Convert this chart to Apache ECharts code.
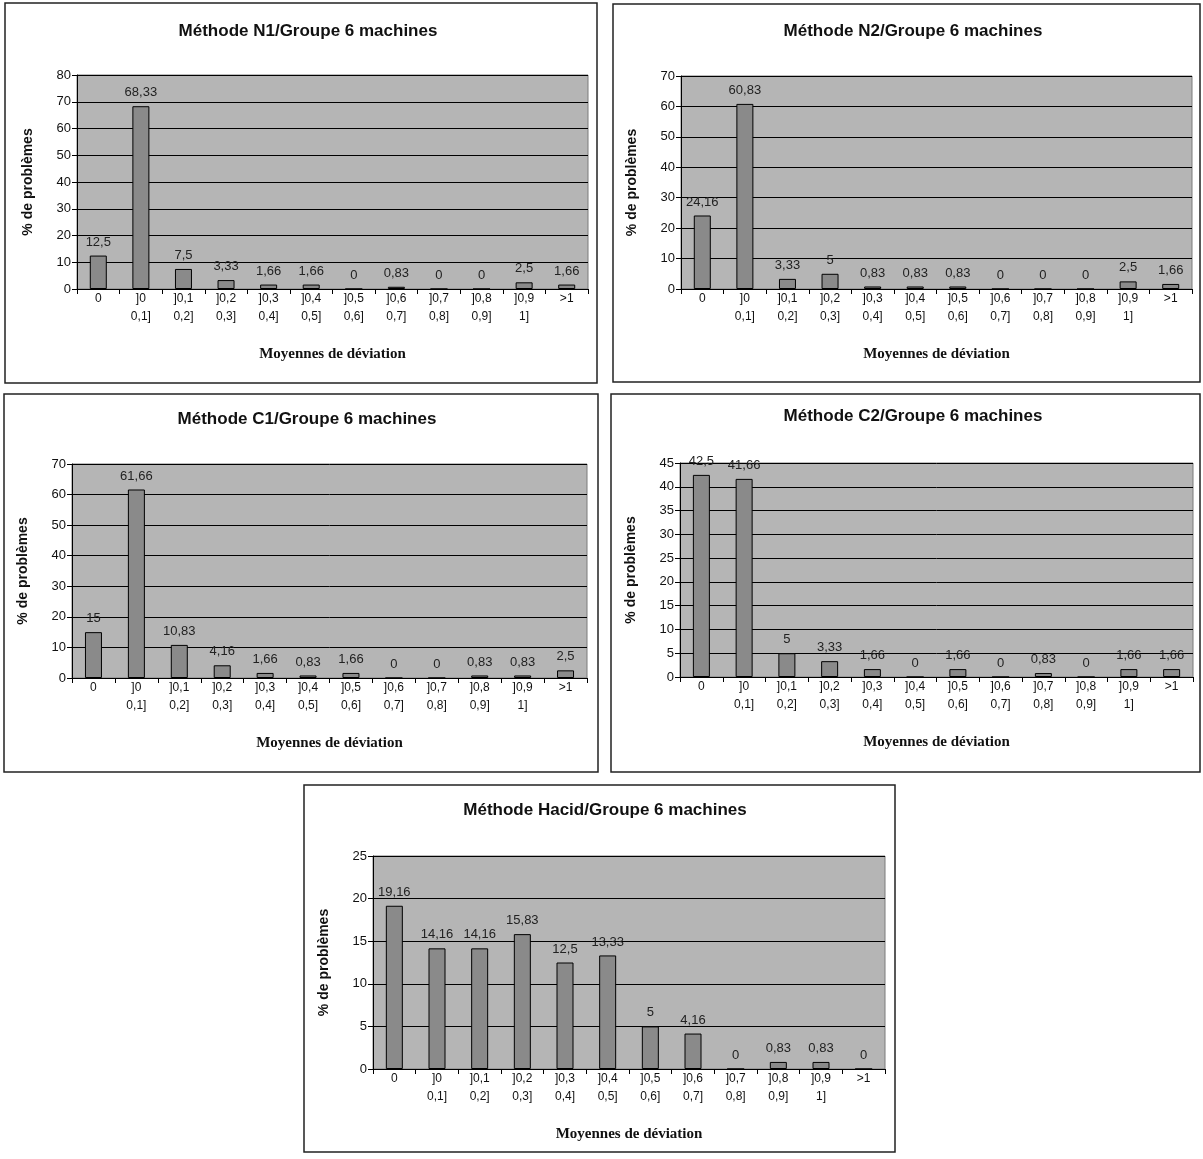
<!DOCTYPE html>
<html>
<head>
<meta charset="utf-8">
<script src="https://cdn.jsdelivr.net/npm/echarts@6/dist/echarts.min.js"></script>
<style>
html,body{margin:0;padding:0;background:#fff;}
#c{width:1203px;height:1159px;}
</style>
</head>
<body>
<div id="c"></div>
<script>
// ---- data ----
const categories = ['0', ']0\n0,1]', ']0,1\n0,2]', ']0,2\n0,3]', ']0,3\n0,4]', ']0,4\n0,5]',
  ']0,5\n0,6]', ']0,6\n0,7]', ']0,7\n0,8]', ']0,8\n0,9]', ']0,9\n1]', '>1'];
const titles = ['Méthode N1/Groupe 6 machines', 'Méthode N2/Groupe 6 machines',
  'Méthode C1/Groupe 6 machines', 'Méthode C2/Groupe 6 machines', 'Méthode Hacid/Groupe 6 machines'];
const valuesN1 = [12.5, 68.33, 7.5, 3.33, 1.66, 1.66, 0, 0.83, 0, 0, 2.5, 1.66];
const valuesN2 = [24.16, 60.83, 3.33, 5, 0.83, 0.83, 0.83, 0, 0, 0, 2.5, 1.66];
const valuesC1 = [15, 61.66, 10.83, 4.16, 1.66, 0.83, 1.66, 0, 0, 0.83, 0.83, 2.5];
const valuesC2 = [42.5, 41.66, 5, 3.33, 1.66, 0, 1.66, 0, 0.83, 0, 1.66, 1.66];
const valuesHacid = [19.16, 14.16, 14.16, 15.83, 12.5, 13.33, 5, 4.16, 0, 0.83, 0.83, 0];
const yMax = [80, 70, 70, 45, 25];
const yStep = [10, 10, 10, 5, 5];
const yName = '% de problèmes';
const xName = 'Moyennes de déviation';

// ---- layout ----
const allValues = [valuesN1, valuesN2, valuesC1, valuesC2, valuesHacid];
const grids = [
  {left: 77, top: 75, width: 511, height: 214},
  {left: 681, top: 76, width: 511, height: 213},
  {left: 72, top: 464, width: 515, height: 214},
  {left: 680, top: 463, width: 513, height: 214},
  {left: 373, top: 856, width: 512, height: 213}
];
const frames = [
  {x: 5, y: 3, width: 592, height: 380},
  {x: 613, y: 4, width: 587, height: 378},
  {x: 4, y: 394, width: 594, height: 378},
  {x: 611, y: 394, width: 589, height: 378},
  {x: 304, y: 785, width: 591, height: 367}
];
const titlePos = [
  {cx: 303, top: 18}, {cx: 908, top: 18}, {cx: 302, top: 406}, {cx: 908, top: 403}, {cx: 600, top: 797}
];

const SANS = '"Liberation Sans", Arial, sans-serif';
const SERIF = '"Liberation Serif", "Times New Roman", serif';

const option = {
  backgroundColor: '#ffffff',
  animation: false,
  title: titles.map((t, i) => ({
    text: t, left: titlePos[i].cx, top: titlePos[i].top, textAlign: 'center',
    textStyle: {fontFamily: SANS, fontWeight: 'bold', fontSize: 17, color: '#111'}
  })),
  graphic: frames.map(f => ({
    type: 'rect', shape: f, silent: true,
    style: {fill: 'none', stroke: '#222', lineWidth: 1.5}
  })),
  grid: grids.map(g => Object.assign({
    show: true, backgroundColor: '#b5b5b5', borderColor: '#7a7a7a', borderWidth: 1, containLabel: false
  }, g)),
  xAxis: grids.map((g, i) => ({
    type: 'category', gridIndex: i, data: categories,
    name: xName, nameLocation: 'middle', nameGap: 58,
    nameTextStyle: {fontFamily: SERIF, fontWeight: 'bold', fontSize: 15, color: '#111'},
    axisLine: {show: true, lineStyle: {color: '#000', width: 1}},
    axisTick: {show: true, alignWithLabel: false, length: 5, lineStyle: {color: '#000'}},
    axisLabel: {fontFamily: SANS, fontSize: 12, color: '#111', margin: 1, lineHeight: 18, interval: 0},
    splitLine: {show: false}
  })),
  yAxis: grids.map((g, i) => ({
    type: 'value', gridIndex: i, min: 0, max: yMax[i], interval: yStep[i],
    name: yName, nameLocation: 'middle', nameGap: 42, nameRotate: 90,
    nameTextStyle: {fontFamily: SANS, fontWeight: 'bold', fontSize: 14, color: '#111'},
    axisLine: {show: true, lineStyle: {color: '#000', width: 1}},
    axisTick: {show: true, length: 5, lineStyle: {color: '#000'}},
    axisLabel: {fontFamily: SANS, fontSize: 13, color: '#111', margin: 6},
    splitLine: {show: true, lineStyle: {color: '#000', width: 1}}
  })),
  series: allValues.map((vals, i) => ({
    type: 'bar', xAxisIndex: i, yAxisIndex: i, data: vals, barWidth: 17,
    itemStyle: {color: '#8a8a8a', borderColor: '#000', borderWidth: 1},
    label: {
      show: true, position: 'top', distance: 7,
      fontFamily: SANS, fontSize: 13, color: '#222',
      formatter: p => String(p.value).replace('.', ',')
    }
  }))
};

const chart = echarts.init(document.getElementById('c'), null, {renderer: 'canvas'});
chart.setOption(option);
</script>
</body>
</html>
